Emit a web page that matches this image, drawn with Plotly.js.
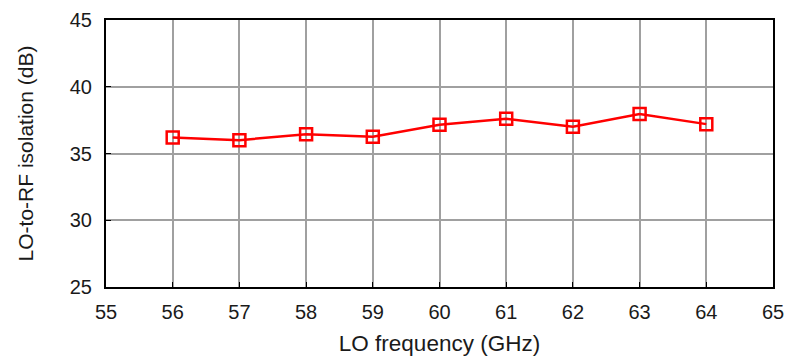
<!DOCTYPE html>
<html><head><meta charset="utf-8">
<script src="https://cdn.plot.ly/plotly-3.0.1.min.js"></script>
<style>html,body{margin:0;padding:0;background:#fff;}</style>
</head><body>
<div id="chart" style="width:788px;height:360px;"></div>
<script>
const freqGHz = [56, 57, 58, 59, 60, 61, 62, 63, 64];
const isolationDb = [36.2, 36.0, 36.45, 36.25, 37.15, 37.6, 37.0, 37.95, 37.2];

const trace = {
  x: freqGHz, y: isolationDb, type: 'scatter', mode: 'lines+markers',
  line: {color: '#ff0000', width: 2.5},
  marker: {symbol: 'square-open', size: 12, color: '#ff0000', line: {width: 2.5, color: '#ff0000'}},
  showlegend: false
};
const FAM = 'Liberation Sans, Arial, sans-serif';
const tickFont = {family: FAM, size: 20, color: '#1a1a1a'};
const layout = {
  width: 788, height: 360,
  margin: {l: 106, r: 15, t: 20, b: 73},
  paper_bgcolor: '#fff', plot_bgcolor: '#fff',
  font: tickFont,
  xaxis: {
    range: [55, 65], dtick: 1, tick0: 55,
    showgrid: true, gridcolor: '#a0a0a0', gridwidth: 2,
    showline: true, linecolor: '#000', linewidth: 2, mirror: true,
    ticks: 'inside', ticklen: 5, tickcolor: '#000', tickwidth: 1,
    ticklabelstandoff: 6,
    zeroline: false, tickfont: tickFont,
    title: {text: 'LO frequency (GHz)', font: {family: FAM, size: 22.5, color: '#1a1a1a'}, standoff: 13}
  },
  yaxis: {
    range: [25, 45], dtick: 5, tick0: 25,
    showgrid: true, gridcolor: '#a0a0a0', gridwidth: 2,
    showline: true, linecolor: '#000', linewidth: 2, mirror: true,
    ticks: 'inside', ticklen: 5, tickcolor: '#000', tickwidth: 1,
    ticklabelstandoff: 8,
    zeroline: false, tickfont: tickFont,
    title: {text: 'LO-to-RF isolation (dB)', font: {family: FAM, size: 21, color: '#1a1a1a'}, standoff: 30}
  }
};
Plotly.newPlot('chart', [trace], layout, {displayModeBar: false, staticPlot: true});
</script>
</body></html>
